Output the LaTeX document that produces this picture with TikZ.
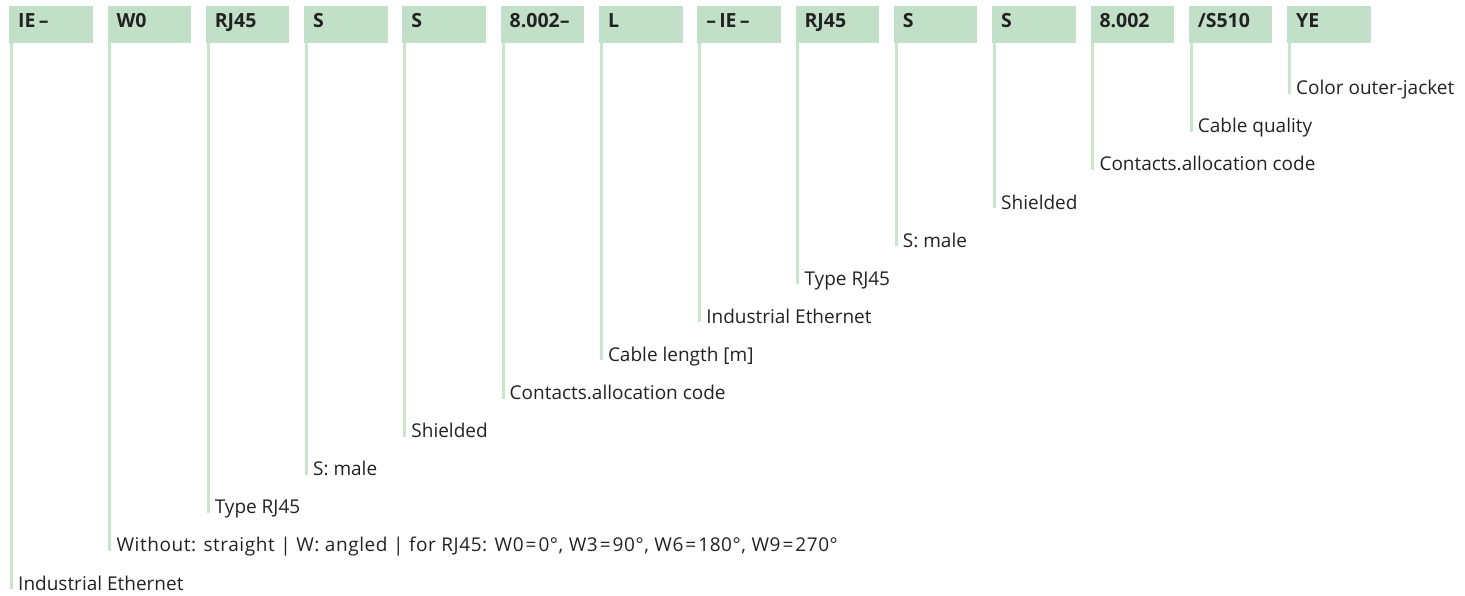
\documentclass[tikz,border=0pt]{standalone}
\usepackage{fontspec}
\setmainfont{Open Sans}
\usetikzlibrary{positioning}
\definecolor{codegreen}{HTML}{C2E0C8}
\definecolor{stemgreen}{HTML}{C8E5CE}
\definecolor{inktext}{HTML}{222222}
\newcommand{\eqsign}{\hspace{2pt}=\hspace{2pt}}

\begin{document}
\begin{tikzpicture}[
  x=1pt,y=-1pt,
  codebox/.style={fill=codegreen,anchor=north west,inner xsep=9pt,inner ysep=0pt,
                  text width=65.5pt,minimum height=37pt,align=left,
                  text height=14pt,text depth=9pt,text=inktext,
                  font=\fontsize{19.5}{22}\selectfont\bfseries},
  legend/.style={anchor=base west,inner sep=0pt,text=inktext,
                 font=\fontsize{19}{22}\selectfont},
  stem/.style={draw=stemgreen,line width=3pt}
]
  \useasboundingbox (0,0) rectangle (1465,595);
  % one code box per part of the order code, its stem drops to the text
  \foreach \code/\desc [count=\i from 0] in {
      {IE\,–}/{Industrial Ethernet},
      {W0}/{\addfontfeatures{LetterSpace=3}Without: straight | W: angled | for RJ45: W0\eqsign0°, W3\eqsign90°, W6\eqsign180°, W9\eqsign270°},
      {RJ45}/{Type RJ45},
      {S}/{S: male},
      {S}/{Shielded},
      {8.002–}/{Contacts.allocation code},
      {L}/{Cable length [m]},
      {–\,IE\,–}/{Industrial Ethernet},
      {RJ45}/{Type RJ45},
      {S}/{S: male},
      {S}/{Shielded},
      {8.002}/{Contacts.allocation code},
      {/S510}/{Cable quality},
      {YE}/{Color outer-jacket}} {
    \node[codebox] (box\i) at (9+98.3*\i,6) {\code};
    \node[legend] (desc\i) at (18+98.3*\i,590-38.1*\i) {\desc};
    \draw[stem] ([xshift=2.5pt]box\i.south west) -- ([xshift=2.5pt,yshift=1pt]box\i.south west |- desc\i.base);
  }
\end{tikzpicture}
\end{document}
